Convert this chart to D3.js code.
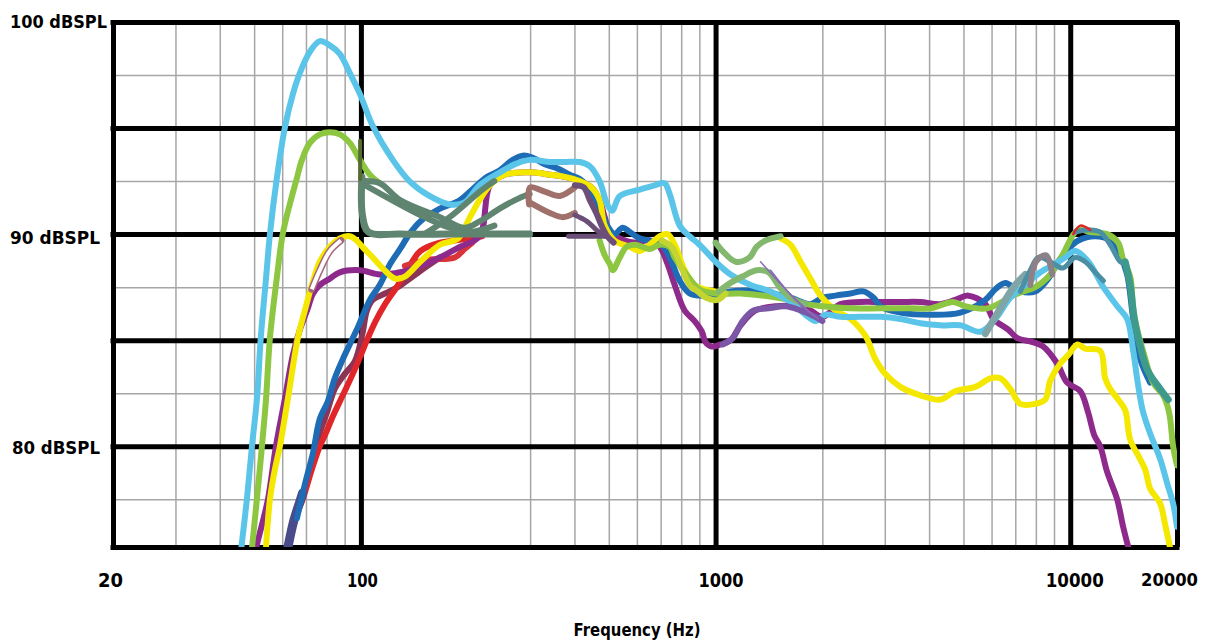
<!DOCTYPE html>
<html><head><meta charset="utf-8">
<script src="https://cdn.jsdelivr.net/npm/d3@7"></script>
<style>
body{margin:0;background:#fff}
svg{display:block}
text{font-family:"DejaVu Sans",sans-serif;font-weight:bold;fill:#000}
</style>
</head><body>
<svg id="c" width="1210" height="641"></svg>
<script>
// ---- tick definitions ----
const freqMajor = [20, 100, 1000, 10000, 20000];
const freqMinor = [30,40,50,60,70,80,90,300,400,500,600,700,800,900,2000,3000,4000,5000,6000,7000,8000,9000];
const dbMajor = [100, 95, 90, 85, 80];
const dbMinor = [97.5, 92.5, 87.5, 82.5, 77.5];
const dbLabels = [100, 90, 80];
const freqLabels = [20, 100, 1000, 10000, 20000];
const xTitle = "Frequency (Hz)";

// ---- series [Hz, dBSPL] ----
const lightBlue = [[46,75.2],[47.7,77.5],[49.3,80.0],[50.9,82.2],[52.2,85.1],[54.0,87.9],[55.4,90.0],[57.9,92.6],[61.0,95.0],[64.3,96.6],[67.3,97.6],[71.8,98.6],[76.6,99.1],[81.7,98.9],[87.2,98.5],[93.0,97.6],[99.4,96.6],[108,95.1],[123,93.5],[137,92.5],[156,91.8],[178,91.4],[196,91.5],[216,92.3],[246,92.9],[272,93.3],[299,93.5],[341,93.4],[376,93.4],[414,93.4],[442,93.2],[471,92.5],[495,91.4],[511,91.1],[537,91.8],[611,92.1],[673,92.3],[718,92.4],[742,91.9],[792,90.4],[845,89.9],[901,89.5],[962,89.0],[1000,88.7],[1102,88.1],[1255,87.6],[1429,87.3],[1627,86.8],[1793,86.2],[1913,85.9],[2041,86.2],[2250,86.1],[2561,86.1],[2916,86.1],[3320,86.0],[3780,85.8],[4304,85.7],[4900,85.7],[5580,85.4],[6148,86.0],[6778,87.0],[7469,87.6],[8234,88.2],[9073,88.6],[9681,88.9],[10330,89.2],[11250,88.7],[12400,87.5],[13570,86.6],[14470,86.0],[15050,84.5],[15500,83.0],[16000,81.7],[16800,80.6],[17930,79.4],[18800,78.2],[19500,77.3],[20000,76.2]];
const lightGreen = [[49.3,75.2],[50.9,77.5],[52.6,80.0],[54.0,82.2],[55.4,85.1],[57.9,87.9],[60.2,90.0],[63.0,91.4],[65.9,92.6],[68.2,93.5],[71.8,94.3],[76.6,94.7],[81.7,94.8],[87.2,94.7],[93.0,94.3],[99.4,93.5],[106,92.8],[113,92.4],null,[471,89.7],[487,89.0],[503,88.6],[513,88.3],[537,88.9],[561,89.4],[595,89.5],[652,89.3],[696,89.5],[742,89.4],[767,88.9],[845,87.9],[901,87.4],[1000,87.2],[1176,87.2],[1500,87.0],[1800,86.7],[2000,86.6],[2400,86.5],[2916,86.5],[3543,86.5],[4033,86.5],[4668,86.8],[5061,86.6],[5836,86.5],[6890,87.1],[7380,87.3],[7969,87.5],[8786,88.1],[9500,89.0],[10500,90.2],[11385,90.1],[12700,90.0],[13650,89.6],[14100,88.8],[14758,88.0],[15050,86.5],[15500,85.4],[16100,84.4],[17130,83.0],[18280,82.4],[18800,81.9],[19130,81.3],[19500,80.0],[20000,79.1]];
const yellow = [[54.0,75.2],[55.4,77.5],[57.2,78.9],[59.1,80.0],[62.2,82.2],[66.4,85.1],[69.5,86.4],[73.3,87.8],[76.6,88.7],[81.7,89.4],[87.2,89.8],[93.0,89.9],[97.2,89.7],[101,89.4],[108,88.9],[115,88.4],[125,87.9],[133,88.0],[147,88.7],[167,89.5],[188,89.8],[203,90.8],[216,91.6],[231,92.3],[254,92.8],[281,92.9],[309,92.9],[341,92.8],[376,92.7],[414,92.5],[447,92.2],[471,91.6],[487,90.4],[519,89.7],[573,89.4],[611,89.2],[652,89.5],[696,89.9],[732,90.0],[767,89.5],[818,88.3],[873,87.6],[931,87.4],[1000,87.3],null,[1525,89.8],[1627,89.5],[1736,88.7],[1852,87.9],[1976,87.1],[2178,86.4],[2400,86.0],[2646,85.2],[2823,84.1],[3012,83.4],[3320,82.8],[3780,82.4],[4304,82.2],[4743,82.6],[5400,82.8],[5953,83.2],[6352,83.2],[6778,82.7],[7232,82.0],[7969,82.0],[8503,82.2],[8786,83.1],[9374,83.9],[9870,84.3],[10480,84.8],[11021,84.6],[12148,84.5],[12549,83.2],[12962,82.7],[13650,82.2],[14287,81.7],[14758,80.3],[15500,79.6],[16267,78.9],[16803,78.0],[17928,77.3],[18520,76.3],[19127,75.2]];
const magenta = [[50.6,75.2],[52.6,76.3],[54.7,77.5],[57.6,80.0],[61.0,82.2],[64.3,84.3],[67.3,85.5],[70.5,86.4],[73.3,87.2],[76.6,87.6],[81.7,87.9],[87.2,88.2],[99.4,88.3],[113,88.1],[129,88.2],[147,88.5],[167,88.9],[190,89.4],[216,89.9],[231,92.3],[254,92.8],[281,92.9],[309,92.9],[341,92.8],[376,92.7],[414,92.5],[447,92.2],[471,91.6],[487,90.8],[503,90.1],[537,89.8],[591,89.6],[652,89.7],[696,89.4],[732,88.6],[767,87.6],[818,86.4],[873,85.9],[915,85.4],[937,84.9],[975,84.7],[1033,84.8],[1102,85.0],[1176,85.7],[1296,86.4],[1476,86.6],[1680,86.6],[1852,86.4],[2000,86.1],[2250,86.7],[2561,86.8],[2916,86.8],[3320,86.8],[3780,86.8],[4304,86.7],[4743,86.9],[5160,87.1],[5762,86.7],[6070,86.0],[6690,85.5],[7090,85.1],[7870,84.9],[8400,84.7],[9190,83.9],[9800,83.0],[10670,82.6],[11230,81.6],[11700,80.5],[12148,80.0],[12700,78.8],[13560,77.5],[14100,76.2],[14600,75.2]];
const red = [[61.8,75.2],[65.1,76.6],[68.2,77.4],[72.7,78.9],[76.6,80.0],[79.1,80.5],[83.3,81.4],[88.9,82.4],[94.8,83.4],[99.4,84.2],[104,85.0],[110,85.9],[117,86.7],[125,87.4],[133,88.1],[147,89.2],[167,89.6],[184,89.7],[220,89.9]];
const redLower = [[133,88.5],[156,88.8],[184,88.9],[196,89.3],[206,89.6]];
const redTip = [[10200,90.0],[10670,90.4],[11385,90.2]];
const darkBlue = [[66,76.6],[69.5,78.2],[73.3,79.7],[76.6,81.3],[80.6,82.1],[84.4,83.2],[88.9,84.1],[93.0,84.8],[98,85.6],[106,86.9],[113,87.6],[121,88.6],[129,89.3],[137,90.0],[147,90.6],[167,91.2],[190,91.6],[209,92.2],[227,92.7],[246,93.0],[268,93.5],[286,93.7],[305,93.6],[330,93.3],[358,93.1],[388,92.8],[414,92.6],[442,92.1],[471,91.2],[499,90.3],[519,90.0],[547,90.3],[573,90.1],[611,89.8],[652,89.7],[696,89.6],[742,88.9],[792,87.8],[845,87.2],[901,87.1],[1000,87.1],[1102,87.3],[1339,87.3],[1627,87.0],[1852,86.7],[2000,87.0],[2178,87.1],[2400,87.2],[2611,87.3],[2790,87.0],[2916,86.6],[3320,86.3],[4033,86.2],[4900,86.3],[5762,86.9],[6148,87.4],[6560,87.7],[7232,87.3],[7969,87.3],[8670,87.9],[9250,88.7],[9870,89.3],[10540,89.7],[11761,89.9],[12962,89.7],[13830,89.0],[14470,88.1],[15050,86.0],[15750,84.1],[16800,83.0]];
const slate = [[62.2,75.2],[64.7,76.5],[67.3,77.4],[68.5,77.8]];
const maroon = [[71.8,78.7],[75.6,80.3],[80.6,81.7],[84.4,82.7],[90,83.4],[96.1,84.0],[101,85.3],[104,86.4],[108,86.9],[117,87.2],[127,87.5],[140,88.0],[151,88.4],[167,88.9]];
const mauveTube = [[72.7,87.4],[76.6,88.3],[81.7,89.2],[87.8,89.7]];
const grayGreen1 = [[100.6,92.7],[101,90.9],[105,90.1],[129,90.0],[178,90.0],[246,90.0],[299,90.0]];
const grayGreen2 = [[100.6,92.5],[113,92.4],[129,91.6],[167,90.8],[196,90.3],[216,90.6],[246,91.2],[272,91.6],[299,91.9]];
const grayGreen3 = [[103,92.3],[147,90.9],[178,90.3],[203,90.1],[238,90.4]];
const grayGreen4 = [[151,90.0],[178,90.8],[220,92.1],[238,92.5]];
const brownUpper = [[298,91.4],[300,92.2],[330,92.0],[364,91.8],[401,92.2]];
const brownLower = [[299,91.5],[341,91.0],[371,90.8],[401,91.0]];
const darkMauve1 = [[401,92.3],[425,92.2],[442,91.6],[461,91.0],[477,90.4],[495,89.9],[516,89.6]];
const darkMauve2 = [[401,90.9],[434,90.6],[461,90.2],[487,89.9]];
const darkMauve3 = [[385,89.9],[480,89.9]];
const yellowGreen = [[705,89.7],[752,89.4],[802,88.4],[845,87.6],[890,87.3],[940,87.0],[1013,86.9],[1067,87.2]];
const medGreen1 = [[1000,89.6],[1047,89.2],[1139,88.7],[1247,88.9],[1305,89.4],[1383,89.7],[1525,89.9]];
const medGreen2 = [[1020,87.3],[1102,87.7],[1190,88.0],[1305,88.3],[1410,88.2],[1515,87.5],[1627,87.0],[1793,86.7]];
const violet = [[1047,84.8],[1118,85.1],[1192,85.9],[1280,86.4],[1410,86.5],[1575,86.6],[1736,86.4],[1913,86.1],[2000,85.9]];
const violetThin1 = [[1339,88.7],[1575,87.4],[1793,86.5],[1950,86.0]];
const violetThin2 = [[1429,88.3],[1680,86.9],[1913,86.1]];
const tealGray = [[5762,85.3],[6148,86.1],[6560,86.9],[7000,87.6],[7469,88.1]];
const teal1 = [[7232,87.3],[7717,88.3],[8130,88.9],[8786,88.7],[9530,88.4],[10330,88.9],[11021,88.7],[11761,88.2],[12400,87.8]];
const teal2 = [[10330,90.1],[11385,90.2],[12148,90.1],[12962,89.5],[13830,88.7],[14287,88.6]];
const tealGreen = [[14287,88.7],[14758,87.6],[15150,86.0],[15600,85.0],[16500,83.6],[17928,82.7],[18900,82.2]];
const grayMauve = [[7717,87.6],[8000,88.7],[8550,89.0],[8900,88.1]];
const oliveMark = [[99.5,94.4],[99.5,92.6]];

// ---- drawing order and styles ----
const seriesList = [
  {d: maroon, c: "#8a3558", w: 6},
  {d: red, c: "#e1262a", w: 6},
  {d: redLower, c: "#d8343a", w: 6},
  {d: slate, c: "#4a4b8b", w: 9},
  {d: magenta, c: "#8d2a8c", w: 6},
  {d: darkBlue, c: "#1d6cb5", w: 6},
  {d: yellow, c: "#f5e800", w: 6},
  {d: lightGreen, c: "#8dc641", w: 6},
  {d: lightBlue, c: "#5bc5e9", w: 6},
  {d: tealGray, c: "#7fa5a6", w: 7},
  {d: teal1, c: "#4b8fa4", w: 5},
  {d: teal2, c: "#4b8fa4", w: 5},
  {d: tealGreen, c: "#3e9a8b", w: 7},
  {d: grayMauve, c: "#8c8089", w: 6},
  {d: grayGreen1, c: "#5f8571", w: 7},
  {d: grayGreen2, c: "#5f8571", w: 6},
  {d: grayGreen3, c: "#5f8571", w: 6},
  {d: grayGreen4, c: "#5f8571", w: 6},
  {d: brownUpper, c: "#a0716a", w: 6},
  {d: brownLower, c: "#a0716a", w: 6},
  {d: darkMauve1, c: "#6c4f78", w: 6},
  {d: darkMauve2, c: "#6c4f78", w: 5},
  {d: darkMauve3, c: "#6c4f78", w: 5},
  {d: yellowGreen, c: "#c5d52f", w: 6},
  {d: medGreen1, c: "#85b86f", w: 6},
  {d: medGreen2, c: "#85b86f", w: 6},
  {d: violet, c: "#7d57a7", w: 6},
  {d: violetThin1, c: "#8a6ab8", w: 1.5},
  {d: violetThin2, c: "#8a6ab8", w: 1.5},
  {d: redTip, c: "#e1262a", w: 2.5},
  {d: oliveMark, c: "#556b2f", w: 4},
  {d: mauveTube, c: "#a5677c", w: 7, hollow: true}
];

const L = 113, R = 1177, T = 22, B = 547;
const x = d3.scaleLog().domain([20, 20000]).range([L, R]);
const y = d3.scaleLinear().domain([75.25, 100]).range([B, T]);
const svg = d3.select("#c");

// minor grid
svg.append("g").attr("transform", `translate(0,${B})`)
  .call(d3.axisBottom(x).tickValues(freqMinor).tickSize(-(B - T)).tickFormat(""))
  .call(g => { g.select(".domain").remove(); g.selectAll("line").attr("stroke", "#a6a6a6").attr("stroke-width", 1.5); });
svg.append("g").attr("transform", `translate(${L},0)`)
  .call(d3.axisLeft(y).tickValues(dbMinor).tickSize(-(R - L)).tickFormat(""))
  .call(g => { g.select(".domain").remove(); g.selectAll("line").attr("stroke", "#a6a6a6").attr("stroke-width", 1.5); });

// major grid
svg.append("g").attr("transform", `translate(0,${B})`)
  .call(d3.axisBottom(x).tickValues(freqMajor).tickSize(-(B - T)).tickFormat(""))
  .call(g => { g.select(".domain").remove(); g.selectAll("line").attr("stroke", "#000").attr("stroke-width", 5); });
svg.append("g").attr("transform", `translate(${L},0)`)
  .call(d3.axisLeft(y).tickValues(dbMajor.concat([75.25])).tickSize(-(R - L)).tickFormat(""))
  .call(g => { g.select(".domain").remove(); g.selectAll("line").attr("stroke", "#000").attr("stroke-width", 5).attr("stroke-linecap", "square"); });

// curves
svg.append("defs").append("clipPath").attr("id", "pc")
  .append("rect").attr("x", L).attr("y", T - 4).attr("width", R - L).attr("height", B - T + 4);
const line = d3.line().defined(d => d).x(d => x(d[0])).y(d => y(d[1])).curve(d3.curveCatmullRom.alpha(0.5));
const cg = svg.append("g").attr("clip-path", "url(#pc)");
seriesList.forEach(s => {
  cg.append("path").attr("d", line(s.d)).attr("fill", "none").attr("stroke", s.c)
    .attr("stroke-width", s.w).attr("stroke-linejoin", "round").attr("stroke-linecap", "round");
  if (s.hollow) {
    cg.append("path").attr("d", line(s.d)).attr("fill", "none").attr("stroke", "#fff")
      .attr("stroke-width", s.w - 3).attr("stroke-linecap", "butt");
  }
});

// y labels
const yLab = {100: {w: 97, dx: -6, dy: 0}, 90: {w: 90, dx: -13, dy: 4}, 80: {w: 88, dx: -13, dy: 2}};
svg.append("g").attr("transform", `translate(${L},0)`)
  .call(d3.axisLeft(y).tickValues(dbLabels).tickSize(0).tickPadding(0).tickFormat(d => d + " dBSPL"))
  .call(g => {
    g.select(".domain").remove();
    g.selectAll("text").attr("font-size", 17.5).attr("font-family", "DejaVu Sans").attr("font-weight", "bold").attr("fill", "#000")
      .attr("x", d => yLab[d].dx).attr("transform", d => `translate(0,${yLab[d].dy})`)
      .attr("textLength", d => yLab[d].w).attr("lengthAdjust", "spacingAndGlyphs");
  });

// x labels
const xLab = {20: {w: 25, dx: -3, fs: 20}, 100: {w: 31, dx: 1, fs: 20}, 1000: {w: 45, dx: 5, fs: 20}, 10000: {w: 58, dx: 4, fs: 20}, 20000: {w: 57, dx: -8, fs: 18}};
svg.append("g").attr("transform", `translate(0,${B})`)
  .call(d3.axisBottom(x).tickValues(freqLabels).tickSize(0).tickPadding(26).tickFormat(d => String(d)))
  .call(g => {
    g.select(".domain").remove();
    g.selectAll("text").attr("font-size", d => xLab[d].fs).attr("font-family", "DejaVu Sans").attr("font-weight", "bold").attr("fill", "#000")
      .attr("dx", d => xLab[d].dx)
      .attr("textLength", d => xLab[d].w).attr("lengthAdjust", "spacingAndGlyphs");
  });

svg.append("text").attr("x", 637).attr("y", 636).attr("text-anchor", "middle")
  .attr("font-size", 17).attr("textLength", 127).attr("lengthAdjust", "spacingAndGlyphs").text(xTitle);
</script>
</body></html>
